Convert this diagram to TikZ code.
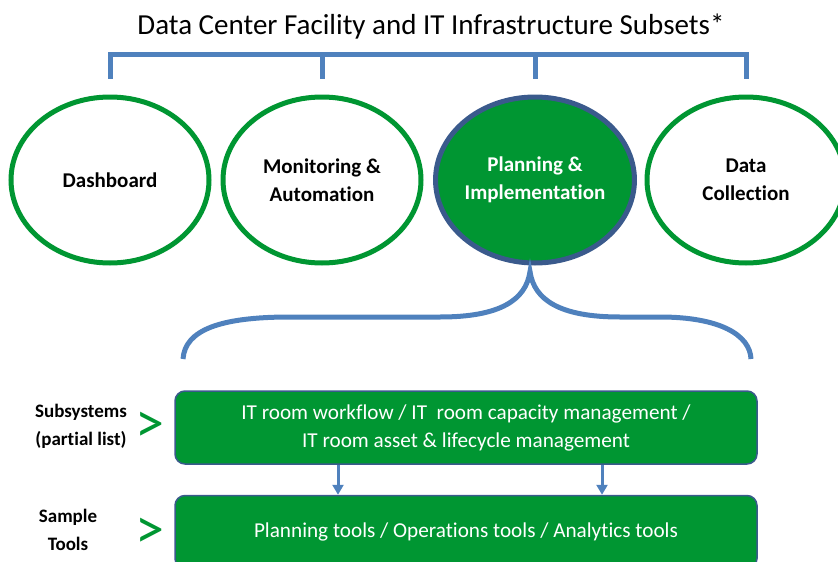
\documentclass[tikz,border=0pt]{standalone}
\usepackage{fontspec}
\setmainfont{Carlito}[Ligatures=NoCommon]
\usetikzlibrary{positioning,arrows.meta,shapes.geometric}
\definecolor{ringgreen}{RGB}{0,150,50}
\definecolor{linkblue}{RGB}{79,129,189}
\definecolor{edgeblue}{RGB}{58,90,140}
\begin{document}
\begin{tikzpicture}[
    x=1pt, y=-1pt,
    area/.style={ellipse, draw=ringgreen, line width=5pt, fill=white,
      minimum width=198pt, minimum height=166pt, inner sep=0pt,
      align=center, font=\fontsize{21}{28}\selectfont\bfseries},
    chosen/.style={area, draw=edgeblue, fill=ringgreen, text=white},
    bracket/.style={draw=linkblue, line width=5pt},
    layer/.style={rectangle, rounded corners=10pt, draw=edgeblue, line width=1.5pt,
      fill=ringgreen, text=white, minimum width=582pt, minimum height=73pt,
      align=center, font=\fontsize{21.2}{28}\selectfont},
    rowname/.style={align=center, font=\fontsize{19}{28}\selectfont\bfseries},
    chevron/.style={text=ringgreen, font=\fontsize{58}{58}\selectfont, inner sep=0pt,
      text height=30pt, text depth=0pt},
    flow/.style={draw=linkblue, line width=3pt, -{Triangle[length=10pt,width=11pt]}}
]
  \useasboundingbox (0,0) rectangle (838,562);
  \node (title) at (431,27) {\fontsize{29}{32}\selectfont Data Center Facility and IT Infrastructure Subsets*};

  \node[area]   (dash) at (110,180) {Dashboard};
  \node[area]   (mon)  at (322,180) {Monitoring \&\\Automation};
  \node[chosen] (plan) at (535,180) {Planning \&\\Implementation};
  \node[area]   (data) at (746,180) {Data\\Collection};

  \draw[bracket] ([yshift=16pt]dash.north) |- ([yshift=40pt]data.north) -- ([yshift=16pt]data.north);
  \draw[bracket] ([yshift=16pt]mon.north) -- ([yshift=40pt]mon.north);
  \draw[bracket] ([yshift=16pt]plan.north) -- ([yshift=40pt]plan.north);

  % brace under the chosen subset
  \coordinate (peak) at ([xshift=-5pt,yshift=-6pt]plan.south);
  \draw[bracket] (183,359) .. controls (185,330) and (220,317) .. (290,317) -- (440,317)
    .. controls (500,317) and (526,300) .. (peak)
    .. controls (534,300) and (560,317) .. (620,317) -- (660,317)
    .. controls (720,317) and (750,335) .. (751,359);

  \node[layer] (sub) at (466,427.5) {IT room workflow / IT\ \ room capacity management /\\IT room asset \& lifecycle management};
  \node[layer, below=30pt of sub] (tools) {Planning tools / Operations tools / Analytics tools};

  \draw[flow] ([xshift=-128pt]sub.south) -- ([xshift=-128pt]tools.north);
  \draw[flow] ([xshift=136pt]sub.south) -- ([xshift=136pt]tools.north);

  \node[rowname] (subname) at (81,426) {Subsystems\\(partial list)};
  \node[rowname] (toolname) at (68,530) {Sample\\Tools};
  \node[chevron] (subsign) at (150,427) {>};
  \node[chevron] (toolsign) at (150,533) {>};
\end{tikzpicture}
\end{document}
